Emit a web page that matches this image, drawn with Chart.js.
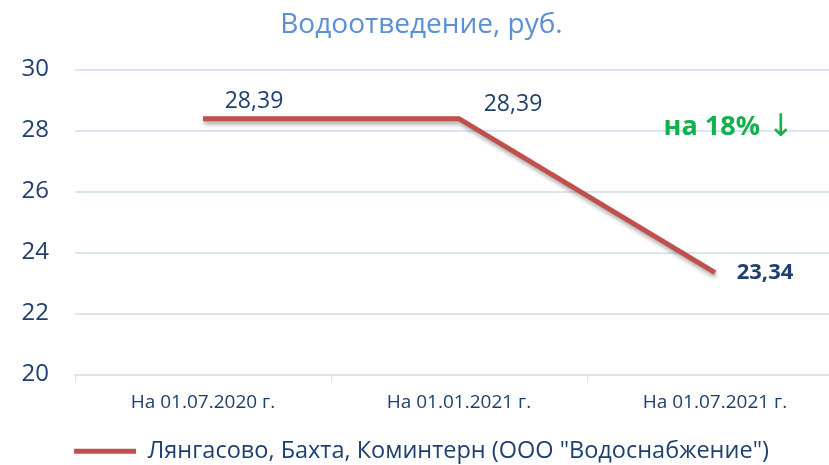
<!DOCTYPE html>
<html>
<head>
<meta charset="utf-8">
<script src="https://cdn.jsdelivr.net/npm/chart.js@4"></script>
<style>
    html, body { margin: 0; padding: 0; overflow: hidden; background: #fff; }
    #wrap { width: 846px; height: 465px; }
</style>
</head>
<body>
<div id="wrap"><canvas id="sewageChart"></canvas></div>
<script>
const categories = ['На 01.07.2020 г.', 'На 01.01.2021 г.', 'На 01.07.2021 г.'];
const tariffValues = [28.39, 28.39, 23.34];
const valueLabels = ['28,39', '28,39', '23,34'];
const seriesName = 'Лянгасово, Бахта, Коминтерн (ООО "Водоснабжение")';
const changeNote = 'на 18%';
const changeArrow = '↓';

const darkBlue = '#1f3f6e';
const gridBlue = '#dce6f3';
const lineRed = '#c0504d';
const noteGreen = '#13b04b';
const fontName = 'Open Sans';

const pointLabels = {
    id: 'pointLabels',
    afterDatasetsDraw(chart) {
        const ctx = chart.ctx;
        const meta = chart.getDatasetMeta(0);
        const shifts = [[51, -17], [54, -14], [50, 0]];
        ctx.save();
        ctx.textAlign = 'center';
        ctx.textBaseline = 'middle';
        meta.data.forEach((pt, i) => {
            const last = i === meta.data.length - 1;
            ctx.font = last ? 'bold 22px ' + fontName : '23px ' + fontName;
            ctx.fillStyle = darkBlue;
            ctx.fillText(valueLabels[i], pt.x + shifts[i][0], pt.y + shifts[i][1]);
        });
        // note on the drop, above the last point
        const lastPt = meta.data[meta.data.length - 1];
        const noteY = chart.scales.y.getPixelForValue(28.1);
        ctx.fillStyle = noteGreen;
        ctx.textAlign = 'right';
        ctx.font = 'bold 27px ' + fontName;
        ctx.fillText(changeNote, lastPt.x + 45, noteY);
        ctx.textAlign = 'left';
        ctx.font = '31px "DejaVu Sans"';
        ctx.fillText(changeArrow, lastPt.x + 53, noteY);
        ctx.restore();
    }
};

const lineShadow = {
    id: 'lineShadow',
    beforeDatasetDraw(chart) {
        const ctx = chart.ctx;
        ctx.save();
        ctx.shadowColor = 'rgba(0,0,0,0.35)';
        ctx.shadowBlur = 4;
        ctx.shadowOffsetX = 1;
        ctx.shadowOffsetY = 3;
    },
    afterDatasetDraw(chart) {
        chart.ctx.restore();
    }
};

document.addEventListener('DOMContentLoaded', function () {
    const ctx = document.getElementById('sewageChart').getContext('2d');
    new Chart(ctx, {
        type: 'line',
        data: {
            labels: categories,
            datasets: [{
                label: seriesName,
                data: tariffValues,
                borderColor: lineRed,
                backgroundColor: lineRed,
                borderWidth: 5,
                pointRadius: 0,
                tension: 0,
                fill: false
            }]
        },
        options: {
            responsive: true,
            maintainAspectRatio: false,
            animation: false,
            layout: { padding: { left: 0, right: 3, top: 0, bottom: -8 } },
            scales: {
                x: {
                    offset: true,
                    afterFit: function (scale) { scale.height = 65; },
                    grid: {
                        offset: true,
                        drawOnChartArea: false,
                        drawTicks: true,
                        tickLength: 7,
                        color: gridBlue
                    },
                    border: { color: gridBlue, width: 2 },
                    ticks: {
                        color: darkBlue,
                        font: { family: fontName, size: 19 },
                        padding: 10
                    }
                },
                y: {
                    min: 20,
                    max: 30,
                    afterFit: function (scale) { scale.width = 75; },
                    ticks: {
                        stepSize: 2,
                        color: darkBlue,
                        font: { family: fontName, size: 24 },
                        padding: 26
                    },
                    grid: { color: gridBlue, lineWidth: 2, drawTicks: false },
                    border: { display: false }
                }
            },
            plugins: {
                title: {
                    display: true,
                    text: 'Водоотведение, руб.',
                    color: '#5b8fd6',
                    font: { family: fontName, size: 28, weight: 'normal' },
                    padding: { top: 8, bottom: 28 }
                },
                legend: {
                    position: 'bottom',
                    labels: {
                        usePointStyle: true,
                        pointStyle: 'line',
                        pointStyleWidth: 62,
                        color: darkBlue,
                        font: { family: fontName, size: 23.5 },
                        padding: 0
                    }
                },
                tooltip: { enabled: false }
            }
        },
        plugins: [lineShadow, pointLabels]
    });
});
</script>
</body>
</html>
